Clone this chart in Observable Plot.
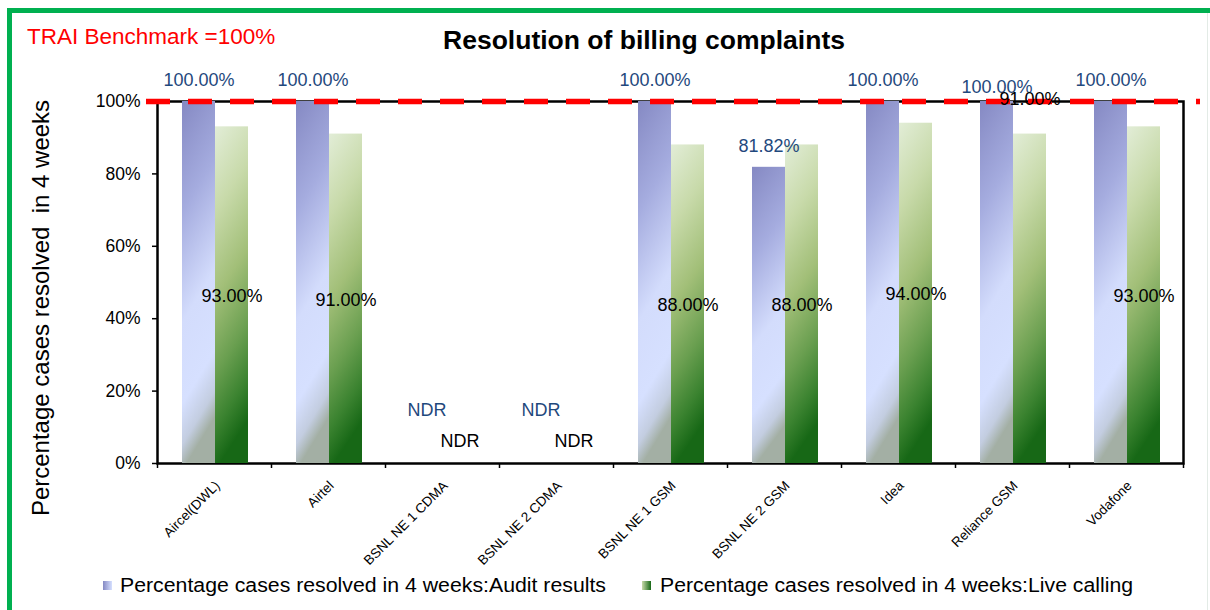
<!DOCTYPE html>
<html>
<head>
<meta charset="utf-8">
<script src="https://cdn.jsdelivr.net/npm/d3@7"></script>
<script src="https://cdn.jsdelivr.net/npm/@observablehq/plot@0.6"></script>
<style>
  html, body { margin: 0; padding: 0; background: #fff; }
  body { font-family: "Liberation Sans", Arial, sans-serif; }
  #wrap { position: relative; width: 1210px; height: 610px; overflow: hidden; background: #fff; }
  #border { position: absolute; left: 7px; top: 8px; width: 1300px; height: 700px;
            border-left: 5px solid #00b050; border-top: 5px solid #00b050; box-sizing: border-box; }
  #rightline { position: absolute; left: 1207px; top: 13px; width: 1px; height: 600px; background: #e3ebe6; }
  #chart { position: absolute; left: 0; top: 0; }
  .abs { position: absolute; white-space: pre; line-height: 1; }
  #title { left: 644px; top: 40px; transform: translate(-50%, -50%); font-weight: bold; font-size: 26.5px; color: #000; }
  #bench { left: 27px; top: 37px; transform: translate(0, -50%); font-size: 22.5px; color: #ff0000; }
  #ytitle { left: 41px; top: 308px; transform: translate(-50%, -50%) rotate(-90deg); font-size: 24px; color: #000; }
  .sw { position: absolute; width: 9px; height: 9px; top: 581px; }
  .lt { position: absolute; top: 585px; font-size: 20px; color: #000; transform-origin: 0 50%; }
</style>
</head>
<body>
<div id="wrap">
  <div id="border"></div>
  <div id="rightline"></div>
  <div id="chart"></div>
  <div id="title" class="abs"></div>
  <div id="bench" class="abs"></div>
  <div id="ytitle" class="abs"></div>
  <div id="legend"></div>
</div>
<script>
// ---- data ----
const categories = ["Aircel(DWL)", "Airtel", "BSNL NE 1 CDMA", "BSNL NE 2 CDMA", "BSNL NE 1 GSM", "BSNL NE 2 GSM", "Idea", "Reliance GSM", "Vodafone"];
const auditValues = [100, 100, null, null, 100, 81.82, 100, 100, 100];
const liveValues = [93, 91, null, null, 88, 88, 94, 91, 93];
const seriesNames = ["Percentage cases resolved in 4 weeks:Audit results", "Percentage cases resolved in 4 weeks:Live calling"];
const yTicks = [0, 20, 40, 60, 80, 100];
const benchmark = 100;
const titleText = "Resolution of billing complaints";
const benchmarkText = "TRAI Benchmark =100%";
const yTitleText = "Percentage cases resolved  in 4 weeks";
const noDataText = "NDR";
const movedLabelCategory = "Reliance GSM"; // labels nudged in the original

// ---- tables ----
const audit = categories.map((c, i) => ({cat: c, value: auditValues[i]}));
const live = categories.map((c, i) => ({cat: c, value: liveValues[i]}));
const fmt = d => d.value.toFixed(2) + "%";

const W = 1210, H = 560, ML = 157, MR = 27, MT = 101, MB = 97;
const step = (W - ML - MR) / categories.length;

const auditColor = "#1f497d";

const chart = Plot.plot({
  width: W, height: H,
  marginLeft: ML, marginRight: MR, marginTop: MT, marginBottom: MB,
  style: {fontFamily: "'Liberation Sans', Arial, sans-serif", fontSize: "17px", background: "transparent", overflow: "visible", color: "#000"},
  x: {type: "band", domain: categories, padding: 0, axis: null},
  y: {domain: [0, 100], axis: null},
  marks: [
    Plot.axisY({ticks: yTicks, tickFormat: d => d + "%", tickSize: 5, tickPadding: 12, fontSize: 17.5, label: null, strokeWidth: 1.5}),
    Plot.axisX({ticks: categories, tickSize: 5, tickFormat: () => "", dx: -step / 2, label: null, strokeWidth: 1.5}),
    Plot.axisX({ticks: [categories[categories.length - 1]], tickSize: 5, tickFormat: () => "", dx: step / 2, label: null, strokeWidth: 1.5}),
    Plot.text(categories, {x: d => d, y: () => 0, text: d => d, dy: 20, dx: 3, rotate: -45, textAnchor: "end", lineAnchor: "middle", fontSize: 13.5, fill: "#000"}),
    Plot.frame({stroke: "#000", strokeWidth: 2.5}),
    Plot.barY(audit, {x: "cat", y: "value", fill: "url(#gradAudit)", insetLeft: 25, insetRight: step - 58}),
    Plot.barY(live, {x: "cat", y: "value", fill: "url(#gradLive)", insetLeft: 58, insetRight: step - 91}),
    Plot.ruleY([benchmark], {stroke: "#ff0000", strokeWidth: 5.5, strokeDasharray: "24,18", insetLeft: -11, insetRight: -17}),
    // audit labels
    Plot.text(audit.filter(d => d.value != null && d.cat !== movedLabelCategory), {x: "cat", y: "value", text: fmt, dx: 41.5 - step / 2, dy: -21, fill: auditColor, fontSize: 18}),
    Plot.text(audit.filter(d => d.value != null && d.cat === movedLabelCategory), {x: "cat", y: "value", text: fmt, dx: 41.5 - step / 2, dy: -14, fill: auditColor, fontSize: 18}),
    Plot.text(audit.filter(d => d.value == null), {x: "cat", y: () => 0, text: () => noDataText, dx: 41.5 - step / 2, dy: -53, fill: auditColor, fontSize: 18}),
    // live labels
    Plot.text(live.filter(d => d.value != null && d.cat !== movedLabelCategory), {x: "cat", y: d => d.value / 2, text: fmt, dx: 74.5 - step / 2, dy: 1, fill: "#000", fontSize: 18}),
    Plot.text(live.filter(d => d.value != null && d.cat === movedLabelCategory), {x: "cat", y: "value", text: fmt, dx: 74.5 - step / 2, dy: -35, fill: "#000", fontSize: 18}),
    Plot.text(live.filter(d => d.value == null), {x: "cat", y: () => 0, text: () => noDataText, dx: 74.5 - step / 2, dy: -22, fill: "#000", fontSize: 18})
  ]
});

// gradients
const svg = d3.select(chart);
const defs = svg.insert("defs", ":first-child");
function grad(id, stops, x2, y2) {
  const g = defs.append("linearGradient").attr("id", id)
    .attr("x1", 0).attr("y1", 0).attr("x2", x2).attr("y2", y2);
  stops.forEach(([o, c]) => g.append("stop").attr("offset", o).attr("stop-color", c));
}
grad("gradAudit", [[0, "#8589c3"], [0.3, "#a5acdf"], [0.6, "#d3dcfc"], [0.82, "#d6e0ff"], [0.93, "#c3cde0"], [1, "#a3afa4"]], 0.15, 1);
grad("gradLive", [[0, "#e2edd7"], [0.25, "#c8daaa"], [0.5, "#a2bf78"], [0.72, "#6a9f50"], [0.88, "#3b8330"], [1, "#176816"]], 0.15, 1);
document.getElementById("chart").appendChild(chart);

document.getElementById("title").textContent = titleText;
document.getElementById("bench").textContent = benchmarkText;
document.getElementById("ytitle").textContent = yTitleText;

// legend
const legend = document.getElementById("legend");
const legendItems = [
  {name: seriesNames[0], sw: 103, tx: 120, w: 486, bg: "linear-gradient(90deg, #8589c3, #d6e0ff)"},
  {name: seriesNames[1], sw: 642, tx: 660, w: 473, bg: "linear-gradient(90deg, #c8daaa, #176816)"}
];
legendItems.forEach(it => {
  const s = document.createElement("div");
  s.className = "sw"; s.style.left = it.sw + "px"; s.style.background = it.bg;
  legend.appendChild(s);
  const t = document.createElement("div");
  t.className = "abs lt"; t.textContent = it.name; t.style.left = it.tx + "px";
  legend.appendChild(t);
  const w = t.getBoundingClientRect().width;
  t.style.transform = `translate(0,-50%) scaleX(${it.w / w})`;
});
</script>
</body>
</html>
